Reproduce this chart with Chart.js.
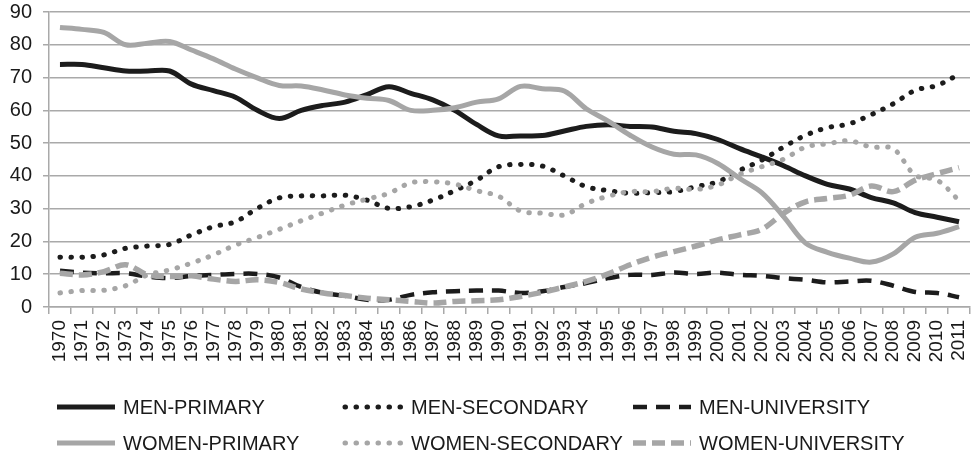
<!DOCTYPE html>
<html>
<head>
<meta charset="utf-8">
<script src="https://cdn.jsdelivr.net/npm/chart.js@4"></script>
<style>
  html, body { margin: 0; padding: 0; background: #fff; }
  #wrap { width: 971px; height: 464px; }
</style>
</head>
<body>
<div id="wrap"><canvas id="myChart" width="971" height="464"></canvas></div>
<script>
// categories and series
const years = [
  '1970', '1971', '1972', '1973', '1974', '1975', '1976', '1977', '1978', '1979',
  '1980', '1981', '1982', '1983', '1984', '1985', '1986', '1987', '1988', '1989',
  '1990', '1991', '1992', '1993', '1994', '1995', '1996', '1997', '1998', '1999',
  '2000', '2001', '2002', '2003', '2004', '2005', '2006', '2007', '2008', '2009',
  '2010', '2011',
];
const menPrimary = [
  74, 74, 73, 72, 72, 72, 68, 66, 64, 60,
  57.5, 60, 61.5, 62.5, 64.8, 67.2, 65.2, 63.2, 60, 55.7,
  52.2, 52.2, 52.3, 53.7, 55.1, 55.6, 55.1, 54.9, 53.6, 52.9,
  51.1, 48.3, 45.8, 43.1, 40, 37.4, 36, 33.4, 31.8, 28.8, 27.4, 26,
];
const menSecondary = [
  15.2, 15.2, 15.9, 17.9, 18.6, 19.1, 22, 24.5, 26, 30.1,
  33.3, 33.9, 33.9, 34.1, 32.6, 30.1, 30.6, 32.6, 35.5, 38.7,
  42.8, 43.5, 43, 40, 36.7, 35.5, 34.7, 34.9, 35.2, 36.7,
  38.2, 41.7, 44.8, 48.8, 52.4, 54.7, 55.9, 58.7, 62, 66.1, 67.6, 71,
];
const menUniversity = [
  11.1, 10.5, 10.3, 10.3, 9.3, 8.8, 9.5, 9.8, 10.1, 10.1,
  9, 6.1, 4.3, 3.4, 2.2, 2.2, 3.7, 4.5, 4.8, 5,
  5, 4.3, 4.8, 6.1, 7.3, 8.8, 9.8, 9.8, 10.5, 10.1,
  10.5, 9.8, 9.5, 8.8, 8.3, 7.5, 7.8, 8, 6.5, 4.6, 4.3, 3,
];
const womenPrimary = [
  85.3, 84.7, 83.8, 80, 80.5, 81, 78.4, 75.7, 72.6, 69.9,
  67.6, 67.4, 66.2, 64.7, 63.7, 63, 60, 60, 60.8, 62.5,
  63.5, 67.3, 66.6, 65.9, 60.5, 56.7, 52.4, 48.8, 46.6, 46.4,
  43.8, 39.2, 34.9, 27.6, 19.5, 16.7, 14.9, 13.7, 16.2, 21.3, 22.5, 24.5,
];
const womenSecondary = [
  4.3, 5, 5.1, 6.5, 9.8, 11.3, 13.4, 15.9, 18.9, 21.2,
  23.7, 26.3, 28.7, 31.1, 32.9, 34.7, 37.9, 38.2, 37.5, 35.5,
  33.8, 29.3, 28.6, 28.1, 31.6, 33.8, 35.2, 35.2, 36.2, 35.9,
  37.2, 40.5, 42.8, 45.1, 48.8, 49.8, 50.7, 48.8, 48.3, 40.2, 38.7, 32.5,
];
const womenUniversity = [
  10.3, 9.8, 10.8, 12.9, 9.8, 9.3, 9.5, 8.5, 7.8, 8.3,
  7.5, 5.5, 4.3, 3.5, 2.7, 2.2, 1.7, 1.2, 1.7, 1.9,
  2.2, 3.2, 4.5, 6.1, 7.8, 10.1, 12.9, 15.2, 16.9, 18.6,
  20.5, 22, 23.7, 28.6, 32.1, 33.1, 34.1, 36.9, 35.2, 38.7, 40.7, 42.5,
];
const yTicks = [0, 10, 20, 30, 40, 50, 60, 70, 80, 90];

const BLACK = '#1c1c1c';
const GREY = '#a6a6a6';
const GRID = '#a9a9a9';
const FONT = '"Liberation Sans", Arial, sans-serif';

function series(label, data, color, width, dash, cap, order) {
  return {
    label: label,
    data: data,
    borderColor: color,
    backgroundColor: color,
    borderWidth: width,
    borderDash: dash,
    borderCapStyle: cap,
    pointRadius: 0,
    pointHoverRadius: 0,
    tension: 0.35,
    fill: false,
    order: order,
  };
}

// legend in three fixed columns, like the original
const gridLegend = {
  id: 'gridLegend',
  afterDraw(chart) {
    const ctx = chart.ctx;
    const cols = [57, 345, 633];
    const rows = [407, 443];
    chart.data.datasets.forEach((ds, i) => {
      const x = cols[i % 3];
      const y = rows[Math.floor(i / 3)];
      ctx.save();
      ctx.strokeStyle = ds.borderColor;
      ctx.lineWidth = ds.borderWidth;
      ctx.lineCap = ds.borderCapStyle;
      ctx.setLineDash(ds.borderDash);
      ctx.beginPath();
      ctx.moveTo(x, y);
      ctx.lineTo(x + 58, y);
      ctx.stroke();
      ctx.setLineDash([]);
      ctx.fillStyle = '#1a1a1a';
      ctx.font = '20px ' + FONT;
      ctx.textBaseline = 'middle';
      ctx.fillText(ds.label, x + 66, y + 1);
      ctx.restore();
    });
  },
};

const canvas = document.getElementById('myChart');

const chart = new Chart(canvas, {
  type: 'line',
  data: {
    labels: years,
    datasets: [
      series('MEN-PRIMARY', menPrimary, BLACK, 5, [], 'butt', 6),
      series('MEN-SECONDARY', menSecondary, BLACK, 5, [0.5, 10.5], 'round', 5),
      series('MEN-UNIVERSITY', menUniversity, BLACK, 4.5, [14, 9], 'butt', 4),
      series('WOMEN-PRIMARY', womenPrimary, GREY, 5, [], 'butt', 3),
      series('WOMEN-SECONDARY', womenSecondary, GREY, 5, [0.5, 10.5], 'round', 2),
      series('WOMEN-UNIVERSITY', womenUniversity, GREY, 5.5, [13, 6], 'butt', 1),
    ],
  },
  options: {
    responsive: false,
    animation: false,
    layout: {
      padding: { top: 12, right: 1, bottom: 100, left: 0 },
    },
    plugins: {
      legend: { display: false },
      tooltip: { enabled: false },
    },
    scales: {
      x: {
        offset: true,
        grid: {
          offset: true,
          drawOnChartArea: false,
          color: GRID,
          lineWidth: 1.5,
          tickLength: 7,
        },
        border: { color: GRID, width: 1.5 },
        ticks: {
          autoSkip: false,
          minRotation: 90,
          maxRotation: 90,
          padding: 6,
          color: '#1a1a1a',
          font: { family: FONT, size: 19 },
        },
        afterFit(scale) {
          scale.height = 57;
          scale.paddingLeft = 0;
          scale.paddingRight = 0;
        },
      },
      y: {
        min: 0,
        max: 90,
        afterBuildTicks(scale) {
          scale.ticks = yTicks.map((v) => ({ value: v }));
        },
        grid: {
          color: GRID,
          lineWidth: 1.5,
          tickLength: 6,
        },
        border: { color: GRID, width: 1.5 },
        ticks: {
          padding: 11,
          color: '#1a1a1a',
          font: { family: FONT, size: 20 },
        },
        afterFit(scale) {
          scale.width = 49;
          scale.paddingTop = 0;
          scale.paddingBottom = 0;
        },
      },
    },
  },
  plugins: [gridLegend],
});
</script>
</body>
</html>
